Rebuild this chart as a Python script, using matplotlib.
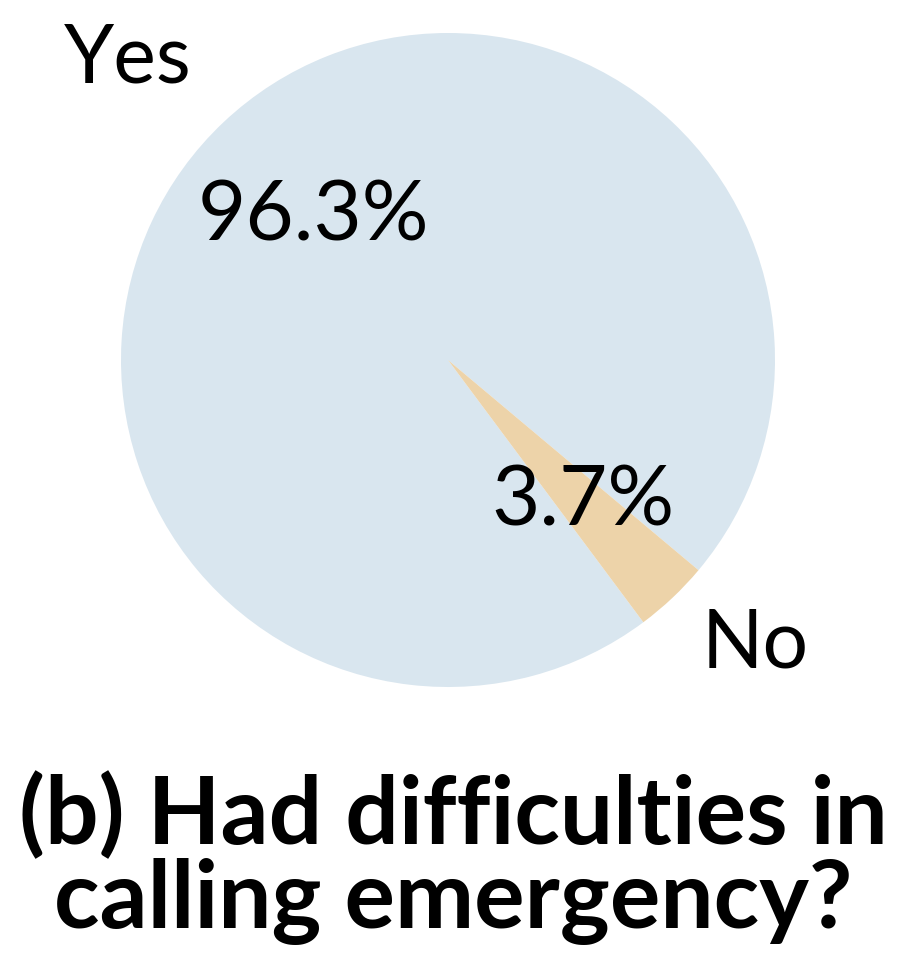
import matplotlib
matplotlib.use("Agg")
import matplotlib.pyplot as plt

categories = ["Yes", "No"]
values = [96.3, 3.7]
pct_labels = ["96.3%", "3.7%"]
colors = ["#D9E6EF", "#EDD3A9"]
title = "(b) Had difficulties in\ncalling emergency?"

W, H = 906, 956
fig = plt.figure(figsize=(W / 100, H / 100), dpi=100)
cx, cy, r = 448, 360, 327
ax = fig.add_axes([(cx - r) / W, (H - cy - r) / H, 2 * r / W, 2 * r / H])

font = "Lato"
wedges, texts, autotexts = ax.pie(
    values, labels=categories, colors=colors, startangle=-40,
    counterclock=True, labeldistance=1.31, pctdistance=0.6,
    autopct=lambda p: "", wedgeprops=dict(linewidth=0),
    textprops=dict(fontsize=58, family=font, ha="center", va="center"))
for t, s in zip(autotexts, pct_labels):
    t.set_text(s)
    t.set_fontsize(60)
    t.set_family(font)
# fine position tweaks (axes data units) to match the reference
texts[0].set_position((-0.98, 0.92))
texts[1].set_position((0.94, -0.87))
ax.set_xlim(-1, 1)
ax.set_ylim(-1, 1)
ax.set_aspect("equal")
ax.axis("off")

fig.text(0.5, 1 - 858 / H, title, ha="center", va="center", fontsize=68,
         fontweight="bold", family=font, linespacing=0.97)

fig.savefig("out.png", dpi=100)
